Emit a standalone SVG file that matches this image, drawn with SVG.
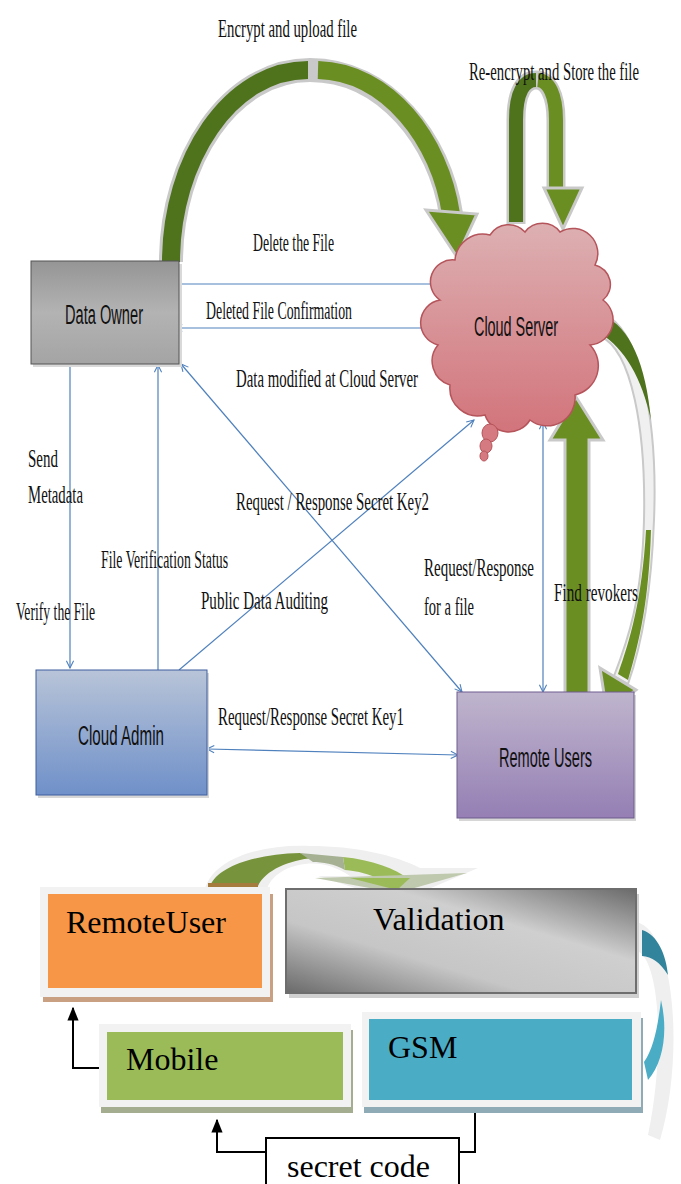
<svg xmlns="http://www.w3.org/2000/svg" width="681" height="1184" viewBox="0 0 681 1184">
<defs>
<style>
.lbl{font-family:"Liberation Serif","Times New Roman",serif;font-size:26px;fill:#111}
.nlbl{font-family:"Liberation Sans",Arial,sans-serif;font-size:27px;fill:#111}
.blbl{font-family:"Liberation Serif","Times New Roman",serif;font-size:32px;fill:#000}
.conn{stroke:#4f81bd;stroke-width:1.2;fill:none}
.bconn{stroke:#000;stroke-width:2;fill:none}
.halo{fill:none;stroke:#c9c9c9;stroke-linecap:butt}
.gdark{fill:none;stroke:#4f731d}
.glight{fill:none;stroke:#6b8e23}
</style>
<marker id="oa" viewBox="0 0 10 10" refX="9" refY="5" markerWidth="9" markerHeight="9" markerUnits="userSpaceOnUse" orient="auto-start-reverse">
<path d="M1,1 L9,5 L1,9" fill="none" stroke="#4f81bd" stroke-width="1.2"/>
</marker>
<marker id="ba" viewBox="0 0 10 10" refX="9" refY="5" markerWidth="14" markerHeight="14" markerUnits="userSpaceOnUse" orient="auto">
<path d="M0,1 L10,5 L0,9 Z" fill="#000"/>
</marker>
<linearGradient id="gOwner" x1="0" y1="0" x2="0" y2="1">
<stop offset="0" stop-color="#959595"/><stop offset="0.5" stop-color="#b3b3b3"/><stop offset="1" stop-color="#a4a4a4"/>
</linearGradient>
<linearGradient id="gAdmin" x1="0" y1="0" x2="0" y2="1">
<stop offset="0" stop-color="#b8c4d8"/><stop offset="1" stop-color="#6f90c9"/>
</linearGradient>
<linearGradient id="gUsers" x1="0" y1="0" x2="0" y2="1">
<stop offset="0" stop-color="#bfb5cd"/><stop offset="1" stop-color="#957fb4"/>
</linearGradient>
<linearGradient id="gCloud" x1="0" y1="0" x2="0" y2="1">
<stop offset="0" stop-color="#ddb0b2"/><stop offset="1" stop-color="#d2747b"/>
</linearGradient>
<linearGradient id="gValid" x1="0" y1="1" x2="1" y2="0">
<stop offset="0" stop-color="#6a6a6a"/><stop offset="0.35" stop-color="#c6c6c6"/><stop offset="0.65" stop-color="#cfcfcf"/><stop offset="1" stop-color="#6a6a6a"/>
</linearGradient>
</defs>
<rect width="681" height="1184" fill="#fff"/>

<g id="connectors">
<g id="arc-upload">
<path class="halo" stroke-width="24" d="M171,262 C171,160 230,70 310,70 C385,70 440,140 451,214"/>
<path class="gdark" stroke-width="18" d="M171,262 C171,160 230,70 308,70"/>
<path class="glight" stroke-width="18" d="M318,70 C388,72 440,140 451,214"/>
<polygon points="426,210 477,214 457,257" fill="#6b8e23" stroke="#c9c9c9" stroke-width="3"/>
</g>
<g id="arc-reencrypt">
<path class="halo" stroke-width="19" d="M516,224 L516,120 C516,92 524,80 536,80 C548,80 556,95 556,120 L556,190"/>
<path class="gdark" stroke-width="14" d="M516,222 L516,120 C516,92 524,80 536,80"/>
<path class="glight" stroke-width="14" d="M538,80 C549,81 556,95 556,120 L556,190"/>
<polygon points="544,188 582,188 563,229" fill="#6b8e23" stroke="#c9c9c9" stroke-width="3"/>
</g>
<g id="arc-revoke">
<path d="M602,314 C640,326 658,420 654,520 C651,600 640,650 628,684 L614,676 C628,640 642,600 644,520 C646,430 632,350 600,336 Z" fill="#f0f0f0" stroke="#c9c9c9" stroke-width="2"/>
<path d="M603,316 C630,326 646,365 651,420 C642,378 624,348 601,334 Z" fill="#4f731d"/>
<path d="M651,530 C649,600 640,640 628,680 L618,674 C630,640 642,600 646,530 Z" fill="#6b8e23"/>
<polygon points="600,668 636,690 607,713" fill="#6b8e23" stroke="#c9c9c9" stroke-width="3"/>
</g>
<g id="arrow-up">
<polygon points="565,695 589,695 589,440 603,440 576,397 550,440 565,440" fill="#6b8e23" stroke="#c9c9c9" stroke-width="3"/>
</g>
<line class="conn" x1="180" y1="284" x2="451" y2="284" marker-end="url(#oa)"/>
<line class="conn" x1="434" y1="328" x2="175" y2="328" marker-end="url(#oa)"/>
<line class="conn" x1="70" y1="364" x2="70" y2="668" marker-end="url(#oa)"/>
<line class="conn" x1="158" y1="670" x2="158" y2="365" marker-end="url(#oa)"/>
<line class="conn" x1="181" y1="364" x2="462" y2="692" marker-start="url(#oa)" marker-end="url(#oa)"/>
<line class="conn" x1="179" y1="670" x2="474" y2="420" marker-end="url(#oa)"/>
<line class="conn" x1="543" y1="422" x2="543" y2="692" marker-start="url(#oa)" marker-end="url(#oa)"/>
<line class="conn" x1="207" y1="749" x2="458" y2="755" marker-start="url(#oa)" marker-end="url(#oa)"/>

<g id="arc-validate">
<path d="M204,893 C210,858 262,844 310,846 C355,846 395,855 420,868 L478,868 L398,902 L318,876 L350,876 C335,866 320,862 305,864 C285,866 268,878 266,893 Z" fill="#efefef"/>
<path d="M210,886 C218,866 256,854 300,853 L313,858 C290,860 265,870 258,886 Z" fill="#77933c"/>
<path d="M343,857 C372,860 395,868 410,880 L380,880 C370,874 358,871 345,870 Z" fill="#9bbb59"/>
<path d="M300,853 L343,857 L345,870 C335,864 322,862 313,862 Z" fill="#a5b192"/>
<polygon points="315,878 467,873 397,893" fill="#bfc9ad"/>
<polygon points="350,878 410,878 397,890" fill="#9bbb59"/>
<rect x="208" y="883" width="50" height="6" fill="#a57c3e"/>
</g>
<g id="arc-gsm">
<path d="M636,922 C676,930 684,1060 660,1140 L648,1135 C664,1060 662,960 636,950 Z" fill="#efefef"/>
<path d="M642,930 C658,935 666,955 668,975 C660,962 652,957 642,956 Z" fill="#31849b"/>
<path d="M661,1000 C668,1030 664,1062 648,1080 L644,1062 C654,1048 658,1025 661,1000 Z" fill="#4bacc6"/>
</g>
<polyline class="bconn" points="103,1068 73,1068 73,1008" marker-end="url(#ba)"/>
<polyline class="bconn" points="266,1152 217,1152 217,1120" marker-end="url(#ba)"/>
<polyline class="bconn" points="475,1104 475,1152 459,1152"/>
</g>

<g id="data-owner">
<rect x="33" y="264" width="149" height="103" fill="#d9d9d9"/>
<rect x="31" y="261" width="148" height="103" fill="url(#gOwner)" stroke="#555" stroke-width="1"/>
<text class="nlbl" x="65" y="324" textLength="78" lengthAdjust="spacingAndGlyphs">Data Owner</text>
</g>
<g id="cloud-server">
<path d="M455,260 A28,28 0 0 1 490,235 A22,22 0 0 1 525,232 A22,22 0 0 1 560,232 A25,25 0 0 1 595,265 A20,20 0 0 1 603,300 A25,25 0 0 1 590,345 A30,30 0 0 1 575,395 A28,28 0 0 1 530,420 A25,25 0 0 1 485,415 A28,28 0 0 1 450,385 A25,25 0 0 1 438,345 A23,23 0 0 1 440,300 A22,22 0 0 1 455,260 Z" fill="url(#gCloud)" stroke="#b5545a" stroke-width="1.5"/>
<ellipse cx="490" cy="433" rx="8" ry="9" fill="#d47a80" stroke="#b5545a" stroke-width="1"/>
<ellipse cx="486" cy="446" rx="6" ry="7" fill="#d47a80" stroke="#b5545a" stroke-width="1"/>
<ellipse cx="484" cy="456" rx="4" ry="5" fill="#d47a80" stroke="#b5545a" stroke-width="1"/>
<text class="nlbl" x="474" y="336" textLength="84" lengthAdjust="spacingAndGlyphs">Cloud Server</text>
</g>
<g id="cloud-admin">
<rect x="38" y="673" width="171" height="125" fill="#d6d6d6"/>
<rect x="36" y="670" width="171" height="125" fill="url(#gAdmin)" stroke="#3f5f9f" stroke-width="1"/>
<text class="nlbl" x="78" y="745" textLength="86" lengthAdjust="spacingAndGlyphs">Cloud Admin</text>
</g>
<g id="remote-users">
<rect x="459" y="695" width="177" height="126" fill="#d6d6d6"/>
<rect x="457" y="692" width="177" height="126" fill="url(#gUsers)" stroke="#6f5c8f" stroke-width="1"/>
<text class="nlbl" x="499" y="767" textLength="93" lengthAdjust="spacingAndGlyphs">Remote Users</text>
</g>

<g id="labels">
<text class="lbl" transform="translate(218,37) scale(0.58,1)" x="0" y="0" textLength="239.7" lengthAdjust="spacingAndGlyphs">Encrypt and upload file</text>
<text class="lbl" transform="translate(469,80) scale(0.58,1)" x="0" y="0" textLength="293" lengthAdjust="spacingAndGlyphs">Re-encrypt and Store the file</text>
<text class="lbl" transform="translate(253,251) scale(0.58,1)" x="0" y="0" textLength="139.7" lengthAdjust="spacingAndGlyphs">Delete the File</text>
<text class="lbl" transform="translate(206,319) scale(0.58,1)" x="0" y="0" textLength="251.7" lengthAdjust="spacingAndGlyphs">Deleted File Confirmation</text>
<text class="lbl" transform="translate(236,387) scale(0.58,1)" x="0" y="0" textLength="313.8" lengthAdjust="spacingAndGlyphs">Data modified at Cloud Server</text>
<text class="lbl" transform="translate(28,467) scale(0.58,1)" x="0" y="0" textLength="51.7" lengthAdjust="spacingAndGlyphs">Send</text>
<text class="lbl" transform="translate(28,503) scale(0.58,1)" x="0" y="0" textLength="94.8" lengthAdjust="spacingAndGlyphs">Metadata</text>
<text class="lbl" transform="translate(236,510) scale(0.58,1)" x="0" y="0" textLength="332.8" lengthAdjust="spacingAndGlyphs">Request / Response Secret Key2</text>
<text class="lbl" transform="translate(101,568) scale(0.58,1)" x="0" y="0" textLength="219" lengthAdjust="spacingAndGlyphs">File Verification Status</text>
<text class="lbl" transform="translate(424,576) scale(0.58,1)" x="0" y="0" textLength="189.7" lengthAdjust="spacingAndGlyphs">Request/Response</text>
<text class="lbl" transform="translate(424,615) scale(0.58,1)" x="0" y="0" textLength="86.2" lengthAdjust="spacingAndGlyphs">for a file</text>
<text class="lbl" transform="translate(201,609) scale(0.58,1)" x="0" y="0" textLength="219" lengthAdjust="spacingAndGlyphs">Public Data Auditing</text>
<text class="lbl" transform="translate(554,601) scale(0.58,1)" x="0" y="0" textLength="144.8" lengthAdjust="spacingAndGlyphs">Find revokers</text>
<text class="lbl" transform="translate(16,620) scale(0.58,1)" x="0" y="0" textLength="136.2" lengthAdjust="spacingAndGlyphs">Verify the File</text>
<text class="lbl" transform="translate(218,725) scale(0.58,1)" x="0" y="0" textLength="320.7" lengthAdjust="spacingAndGlyphs">Request/Response Secret Key1</text>
</g>

<g id="remoteuser">
<rect x="43" y="894" width="230" height="108" fill="#c9a082"/>
<rect x="40" y="887" width="230" height="110" fill="#f2f2f2"/>
<rect x="48" y="894" width="214" height="94" fill="#f79646"/>
<text class="blbl" x="66" y="933">RemoteUser</text>
</g>
<g id="validation">
<rect x="289" y="894" width="350" height="104" fill="#d0d0d0"/>
<rect x="286" y="889" width="350" height="104" fill="url(#gValid)" stroke="#6e6e6e" stroke-width="2"/>
<text class="blbl" x="373" y="930">Validation</text>
</g>
<g id="mobile">
<rect x="101" y="1030" width="252" height="83" fill="#a4ad8f"/>
<rect x="99" y="1024" width="252" height="83" fill="#f2f2f2"/>
<rect x="107" y="1032" width="236" height="68" fill="#9bbb59"/>
<text class="blbl" x="126" y="1070">Mobile</text>
</g>
<g id="gsm">
<rect x="364" y="1018" width="279" height="95" fill="#8fabb5"/>
<rect x="362" y="1012" width="279" height="95" fill="#f2f2f2"/>
<rect x="369" y="1019" width="263" height="81" fill="#4bacc6"/>
<text class="blbl" x="388" y="1058">GSM</text>
</g>
<g id="secret-code">
<rect x="266" y="1138" width="193" height="60" fill="#fff" stroke="#000" stroke-width="2"/>
<text class="blbl" x="287" y="1177">secret code</text>
</g>
</svg>
